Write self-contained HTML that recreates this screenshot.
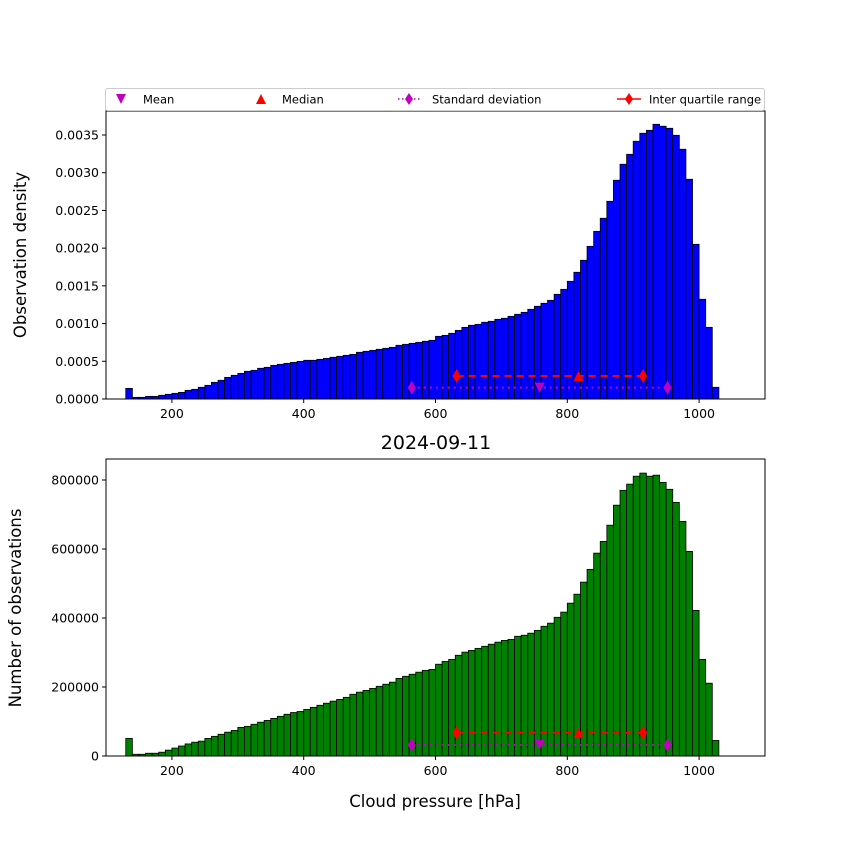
<!DOCTYPE html>
<html><head><meta charset="utf-8"><style>
html,body{margin:0;padding:0;background:#fff}
svg{display:block;font-family:"DejaVu Sans","Liberation Sans",sans-serif}
</style></head><body>
<svg id="chart" width="850" height="850" viewBox="0 0 850 850">
<rect width="850" height="850" fill="#fff"/>
<g id="top"></g>
<g id="bottom"></g>
<text x="436" y="449" font-size="19" text-anchor="middle" fill="#000">2024-09-11</text>
<text x="435" y="807" font-size="16.5" text-anchor="middle" fill="#000">Cloud pressure [hPa]</text>
<text transform="translate(26,255) rotate(-90)" font-size="16.5" text-anchor="middle" fill="#000">Observation density</text>
<text transform="translate(21,608) rotate(-90)" font-size="16.5" text-anchor="middle" fill="#000">Number of observations</text>
<g>
<rect x="105.5" y="88.5" width="659" height="22" rx="2" fill="#fff" stroke="#ccc"/>
<g><path d="M116,94 L126,94 L121,104 Z" fill="#bf00bf"/><text x="143" y="103.5" font-size="11.5">Mean</text></g>
<g><path d="M256,104 L266,104 L261,94 Z" fill="#f00"/><text x="282" y="103.5" font-size="11.5">Median</text></g>
<g><line x1="398" y1="99" x2="420" y2="99" stroke="#bf00bf" stroke-width="1.5" stroke-dasharray="1.5,2.5"/><path d="M409,93 L413,99 L409,105 L405,99 Z" fill="#bf00bf"/><text x="432" y="103.5" font-size="11.5">Standard deviation</text></g>
<g><line x1="617" y1="99" x2="641" y2="99" stroke="#f00" stroke-width="1.5"/><path d="M629,93 L633,99 L629,105 L625,99 Z" fill="#f00"/><text x="649" y="103.5" font-size="11.5">Inter quartile range</text></g>
</g>
</svg>
<script>
const binStarts = [130,140,150,160,170,180,190,200,210,220,230,240,250,260,270,280,290,300,310,320,330,340,350,360,370,380,390,400,410,420,430,440,450,460,470,480,490,500,510,520,530,540,550,560,570,580,590,600,610,620,630,640,650,660,670,680,690,700,710,720,730,740,750,760,770,780,790,800,810,820,830,840,850,860,870,880,890,900,910,920,930,940,950,960,970,980,990,1000,1010,1020];
const densityValues = [0.000141,0.000022,0.000022,0.000035,0.000035,0.000049,0.000062,0.000075,0.000088,0.000115,0.000128,0.000155,0.000181,0.000221,0.000248,0.000287,0.000314,0.000340,0.000367,0.000380,0.000407,0.000420,0.000446,0.000460,0.000473,0.000486,0.000499,0.000513,0.000513,0.000526,0.000539,0.000553,0.000566,0.000579,0.000592,0.000619,0.000632,0.000645,0.000659,0.000672,0.000685,0.000712,0.000725,0.000738,0.000751,0.000765,0.000778,0.000831,0.000844,0.000871,0.000910,0.000950,0.000977,0.000990,0.001017,0.001030,0.001056,0.001070,0.001096,0.001123,0.001149,0.001189,0.001229,0.001269,0.001308,0.001388,0.001454,0.001560,0.001680,0.001839,0.002024,0.002223,0.002396,0.002621,0.002900,0.003112,0.003244,0.003417,0.003523,0.003562,0.003642,0.003616,0.003589,0.003496,0.003311,0.002913,0.002051,0.001322,0.000950,0.000155];
const countValues = [51000,5000,5000,8000,8000,11000,17000,23000,29000,35000,40000,43000,51000,57000,63000,69000,74000,83000,86000,92000,98000,103000,109000,115000,121000,126000,129000,135000,141000,147000,153000,159000,164000,170000,179000,185000,190000,196000,202000,208000,214000,225000,231000,237000,243000,248000,251000,266000,274000,280000,292000,301000,306000,312000,318000,324000,330000,335000,338000,347000,350000,356000,364000,376000,385000,402000,417000,443000,469000,504000,541000,588000,622000,669000,727000,770000,788000,811000,820000,811000,814000,793000,773000,735000,680000,593000,422000,280000,211000,45000];
const xTicks = [200,400,600,800,1000];
const densityTicks = [0,0.0005,0.001,0.0015,0.002,0.0025,0.003,0.0035];
const densityTickLabels = ["0.0000","0.0005","0.0010","0.0015","0.0020","0.0025","0.0030","0.0035"];
const countTicks = [0,200000,400000,600000,800000];
const countTickLabels = ["0","200000","400000","600000","800000"];
const statX = {mean:758, median:817, stdLow:564, stdHigh:952, q1:632, q3:915};
const densityStatY = {iqr:0.000305, std:0.00015};
const countStatY = {iqr:67500, std:32000};
const binWidth = 10;

const NS = "http://www.w3.org/2000/svg";
function mk(tag, attrs, parent){const e=document.createElementNS(NS,tag);for(const k in attrs)e.setAttribute(k,attrs[k]);parent.appendChild(e);return e;}
const x = v => 106 + (v-100)/1000*659;

function panel(g, top, bottom, ymax, vals, ticks, labels, color, sy, prefix){
  const y = v => bottom - v/ymax*(bottom-top);
  vals.forEach((v,i)=>{
    const r = mk('rect',{x:x(binStarts[i]),y:y(v),width:x(binStarts[i]+binWidth)-x(binStarts[i]),height:bottom-y(v),fill:color,stroke:'#000','stroke-width':0.8},g);
    
    
  });
  const sl = mk('line',{x1:x(statX.stdLow),x2:x(statX.stdHigh),y1:y(sy.std),y2:y(sy.std),stroke:'#bf00bf','stroke-width':2,'stroke-dasharray':'2,4'},g);
  
  
  [statX.stdLow,statX.stdHigh].forEach(sx=>{
    const d = mk('path',{d:`M${x(sx)},${y(sy.std)-7} L${x(sx)+4},${y(sy.std)} L${x(sx)},${y(sy.std)+7} L${x(sx)-4},${y(sy.std)} Z`,fill:'#bf00bf'},g);
    
    
  });
  const il = mk('line',{x1:x(statX.q1),x2:x(statX.q3),y1:y(sy.iqr),y2:y(sy.iqr),stroke:'#f00','stroke-width':2,'stroke-dasharray':'7,5'},g);
  
  
  [statX.q1,statX.q3].forEach(sx=>{
    const d = mk('path',{d:`M${x(sx)},${y(sy.iqr)-7} L${x(sx)+4},${y(sy.iqr)} L${x(sx)},${y(sy.iqr)+7} L${x(sx)-4},${y(sy.iqr)} Z`,fill:'#f00'},g);
    
    
  });
  const mm = mk('path',{d:`M${x(statX.mean)-5},${y(sy.std)-5} L${x(statX.mean)+5},${y(sy.std)-5} L${x(statX.mean)},${y(sy.std)+5} Z`,fill:'#bf00bf'},g);
  
  
  const md = mk('path',{d:`M${x(statX.median)-5},${y(sy.iqr)+5} L${x(statX.median)+5},${y(sy.iqr)+5} L${x(statX.median)},${y(sy.iqr)-5} Z`,fill:'#f00'},g);
  
  
  const fr = mk('rect',{x:106,y:top,width:659,height:bottom-top,fill:'none',stroke:'#000','stroke-width':1},g);
  
  
  xTicks.forEach(t=>{
    const l = mk('line',{x1:x(t),x2:x(t),y1:bottom,y2:bottom+4,stroke:'#000'},g);
    
    
    const tx = mk('text',{x:x(t),y:bottom+19,'font-size':12.5,'text-anchor':'middle'},g);
    tx.textContent = t;
    
    
  });
  ticks.forEach((t,i)=>{
    const l = mk('line',{x1:102,x2:106,y1:y(t),y2:y(t),stroke:'#000'},g);
    
    
    const tx = mk('text',{x:99,y:y(t)+4.5,'font-size':12.5,'text-anchor':'end'},g);
    tx.textContent = labels[i];
    
    
  });
}
panel(document.getElementById('top'), 111, 399, 0.0035*(399-111)/(399-135), densityValues, densityTicks, densityTickLabels, '#0000ff', densityStatY, 'density');
panel(document.getElementById('bottom'), 459, 756, 800000*(756-459)/(756-480), countValues, countTicks, countTickLabels, '#008000', countStatY, 'count');
</script>
</body></html>
